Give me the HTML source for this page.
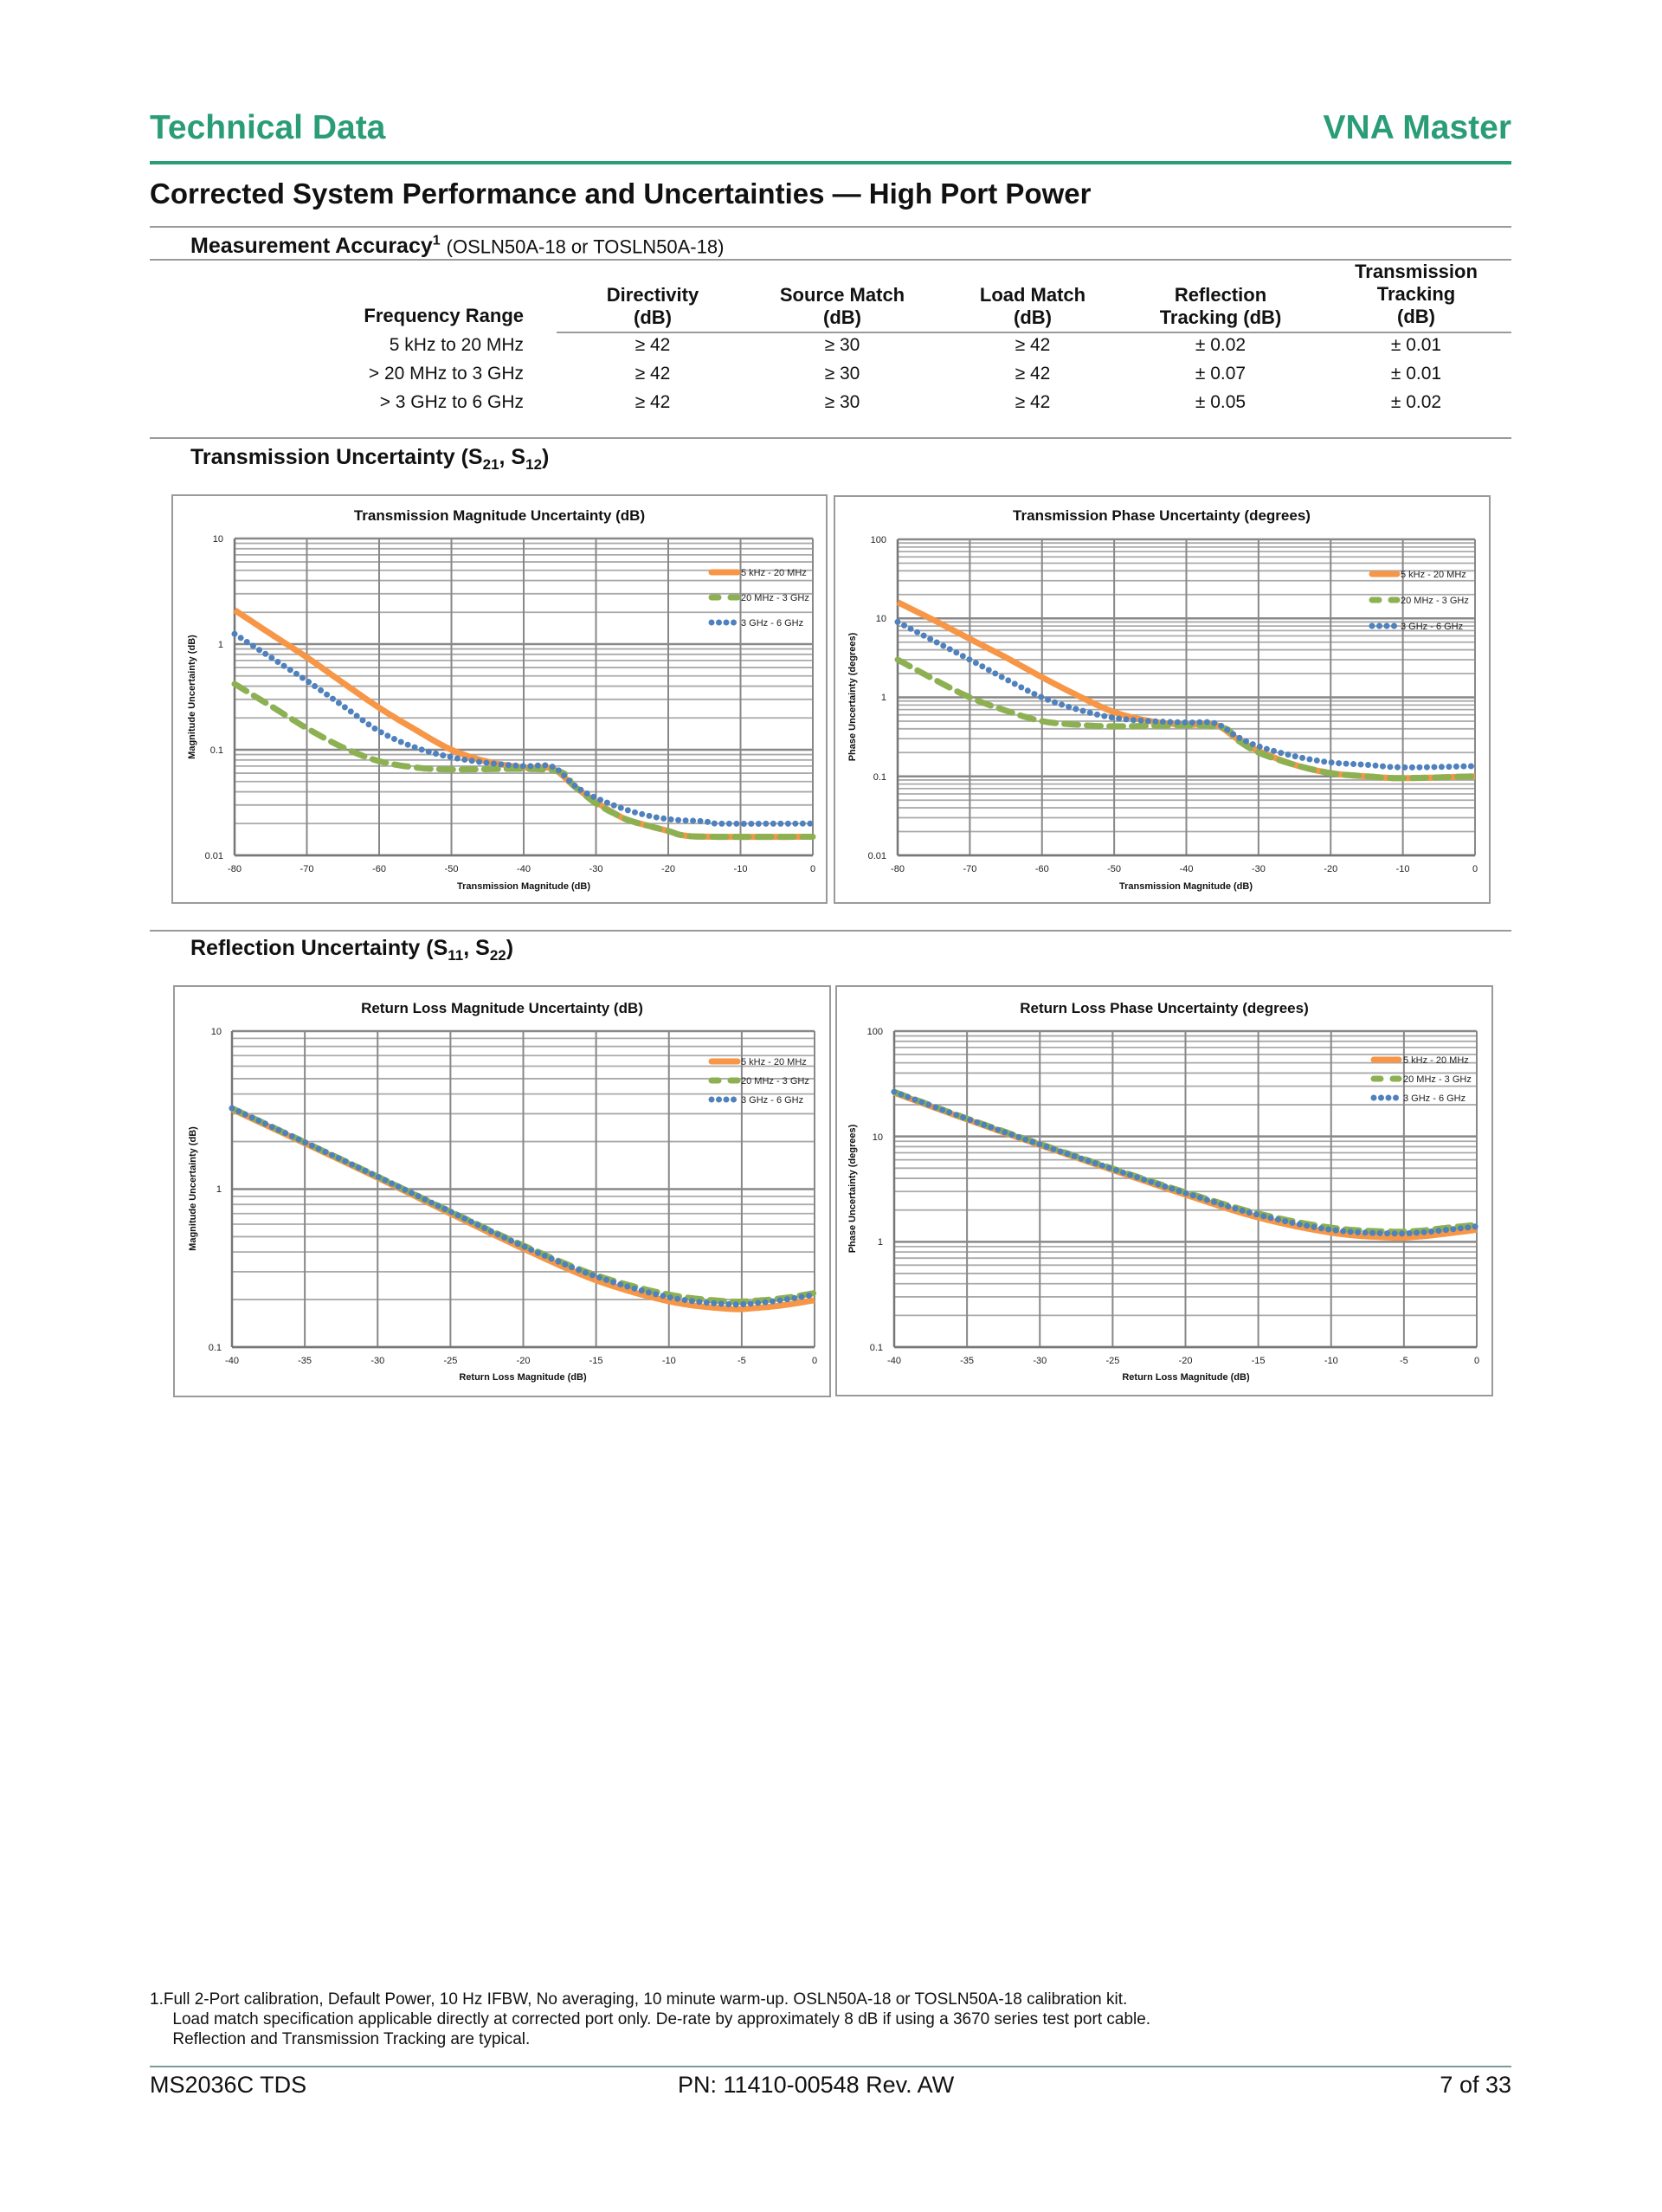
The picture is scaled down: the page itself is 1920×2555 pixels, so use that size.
<!DOCTYPE html>
<html><head><meta charset="utf-8"><style>
html,body{margin:0;padding:0;background:#fff;}
body{width:1920px;height:2555px;position:relative;overflow:hidden;font-family:"Liberation Sans",sans-serif;color:#111;}
.a{position:absolute;white-space:nowrap;line-height:1;}
.b{font-weight:bold;}
.hl{position:absolute;height:2px;background:#9a9a9a;}
.c{text-align:center;}
.r{text-align:right;}
</style></head><body>
<div class="a b" style="left:173px;top:128px;font-size:39px;color:#2a9d78;">Technical Data</div>
<div class="a b r" style="left:1446px;width:300px;top:128px;font-size:39px;color:#2a9d78;">VNA Master</div>
<div style="position:absolute;left:173px;top:186px;width:1573px;height:4px;background:#2a9d78;"></div>
<div class="a b" style="left:173px;top:207px;font-size:33px;">Corrected System Performance and Uncertainties — High Port Power</div>
<div class="hl" style="left:173px;top:261px;width:1573px;"></div>
<div class="a" style="left:220px;top:271px;font-size:25px;"><b>Measurement Accuracy<sup style="font-size:16px">1</sup></b> <span style="font-size:22px">(OSLN50A-18 or TOSLN50A-18)</span></div>
<div class="hl" style="left:173px;top:299px;width:1573px;"></div>
<div class="a b r" style="left:405px;width:200px;top:354px;font-size:22px;">Frequency Range</div>
<div class="a b c" style="left:654px;width:200px;top:328px;font-size:22px;line-height:26px;">Directivity<br>(dB)</div>
<div class="a b c" style="left:873px;width:200px;top:328px;font-size:22px;line-height:26px;">Source Match<br>(dB)</div>
<div class="a b c" style="left:1093px;width:200px;top:328px;font-size:22px;line-height:26px;">Load Match<br>(dB)</div>
<div class="a b c" style="left:1310px;width:200px;top:328px;font-size:22px;line-height:26px;">Reflection<br>Tracking (dB)</div>
<div class="a b c" style="left:1536px;width:200px;top:301px;font-size:22px;line-height:26px;">Transmission<br>Tracking<br>(dB)</div>
<div class="hl" style="left:643px;top:383px;width:1103px;"></div>
<div class="a r" style="left:355px;width:250px;top:382px;font-size:21px;line-height:33px;">5 kHz to 20 MHz<br>&gt; 20 MHz to 3 GHz<br>&gt; 3 GHz to 6 GHz</div>
<div class="a c" style="left:654px;width:200px;top:382px;font-size:21px;line-height:33px;">≥ 42<br>≥ 42<br>≥ 42</div>
<div class="a c" style="left:873px;width:200px;top:382px;font-size:21px;line-height:33px;">≥ 30<br>≥ 30<br>≥ 30</div>
<div class="a c" style="left:1093px;width:200px;top:382px;font-size:21px;line-height:33px;">≥ 42<br>≥ 42<br>≥ 42</div>
<div class="a c" style="left:1310px;width:200px;top:382px;font-size:21px;line-height:33px;">± 0.02<br>± 0.07<br>± 0.05</div>
<div class="a c" style="left:1536px;width:200px;top:382px;font-size:21px;line-height:33px;">± 0.01<br>± 0.01<br>± 0.02</div>
<div class="hl" style="left:173px;top:505px;width:1573px;"></div>
<div class="a b" style="left:220px;top:516px;font-size:25px;">Transmission Uncertainty (S<sub style="font-size:17px">21</sub>, S<sub style="font-size:17px">12</sub>)</div>
<div class="hl" style="left:173px;top:1074px;width:1573px;"></div>
<div class="a b" style="left:220px;top:1083px;font-size:25px;">Reflection Uncertainty (S<sub style="font-size:17px">11</sub>, S<sub style="font-size:17px">22</sub>)</div>

<svg id="ch" style="position:absolute;left:0;top:0" width="1920" height="2555" font-family="Liberation Sans, sans-serif">
<g id="grid"></g><g id="curves"></g>
<g font-size="17" font-weight="bold" text-anchor="middle" fill="#111">
<text x="577" y="601">Transmission Magnitude Uncertainty (dB)</text>
<text x="1342" y="601">Transmission Phase Uncertainty (degrees)</text>
<text x="580" y="1170">Return Loss Magnitude Uncertainty (dB)</text>
<text x="1345" y="1170">Return Loss Phase Uncertainty (degrees)</text>
</g>
<g font-size="11" font-weight="bold" text-anchor="middle" fill="#111">
<text x="605" y="1027">Transmission Magnitude (dB)</text>
<text x="1370" y="1027">Transmission Magnitude (dB)</text>
<text x="604" y="1594">Return Loss Magnitude (dB)</text>
<text x="1370" y="1594">Return Loss Magnitude (dB)</text>
<text transform="translate(225,805) rotate(-90)">Magnitude Uncertainty (dB)</text>
<text transform="translate(988,805) rotate(-90)">Phase Uncertainty (degrees)</text>
<text transform="translate(226,1373) rotate(-90)">Magnitude Uncertainty (dB)</text>
<text transform="translate(988,1373) rotate(-90)">Phase Uncertainty (degrees)</text>
</g>
<g font-size="11" fill="#222" text-anchor="end">
<text x="258" y="626">10</text><text x="258" y="748">1</text><text x="258" y="870">0.1</text><text x="258" y="992">0.01</text>
<text x="1024" y="627">100</text><text x="1024" y="718">10</text><text x="1024" y="809">1</text><text x="1024" y="901">0.1</text><text x="1024" y="992">0.01</text>
<text x="256" y="1195">10</text><text x="256" y="1377">1</text><text x="256" y="1560">0.1</text>
<text x="1020" y="1195">100</text><text x="1020" y="1317">10</text><text x="1020" y="1438">1</text><text x="1020" y="1560">0.1</text>
</g>
<g font-size="11" fill="#222" text-anchor="middle">
<text x="271" y="1007">-80</text><text x="354.5" y="1007">-70</text><text x="438" y="1007">-60</text><text x="521.5" y="1007">-50</text><text x="605" y="1007">-40</text><text x="688.5" y="1007">-30</text><text x="772" y="1007">-20</text><text x="855.5" y="1007">-10</text><text x="939" y="1007">0</text>
<text x="1037" y="1007">-80</text><text x="1120.4" y="1007">-70</text><text x="1203.8" y="1007">-60</text><text x="1287.1" y="1007">-50</text><text x="1370.5" y="1007">-40</text><text x="1453.9" y="1007">-30</text><text x="1537.3" y="1007">-20</text><text x="1620.6" y="1007">-10</text><text x="1704" y="1007">0</text>
<text x="268" y="1575">-40</text><text x="352.1" y="1575">-35</text><text x="436.3" y="1575">-30</text><text x="520.4" y="1575">-25</text><text x="604.5" y="1575">-20</text><text x="688.6" y="1575">-15</text><text x="772.8" y="1575">-10</text><text x="856.9" y="1575">-5</text><text x="941" y="1575">0</text>
<text x="1033" y="1575">-40</text><text x="1117.1" y="1575">-35</text><text x="1201.3" y="1575">-30</text><text x="1285.4" y="1575">-25</text><text x="1369.5" y="1575">-20</text><text x="1453.6" y="1575">-15</text><text x="1537.8" y="1575">-10</text><text x="1621.9" y="1575">-5</text><text x="1706" y="1575">0</text>
</g>
<g font-size="11" fill="#222">
<text x="856" y="665">5 kHz - 20 MHz</text><text x="856" y="694">20 MHz - 3 GHz</text><text x="856" y="723">3 GHz - 6 GHz</text>
<text x="1618" y="667">5 kHz - 20 MHz</text><text x="1618" y="697">20 MHz - 3 GHz</text><text x="1618" y="727">3 GHz - 6 GHz</text>
<text x="856" y="1230">5 kHz - 20 MHz</text><text x="856" y="1252">20 MHz - 3 GHz</text><text x="856" y="1274">3 GHz - 6 GHz</text>
<text x="1621" y="1228">5 kHz - 20 MHz</text><text x="1621" y="1250">20 MHz - 3 GHz</text><text x="1621" y="1272">3 GHz - 6 GHz</text>
</g>
</svg>

<div class="a" style="left:173px;top:2298px;font-size:19px;line-height:23px;">1.Full 2-Port calibration, Default Power, 10 Hz IFBW, No averaging, 10 minute warm-up. OSLN50A-18 or TOSLN50A-18 calibration kit.<br>&nbsp;&nbsp;&nbsp;&nbsp;&nbsp;Load match specification applicable directly at corrected port only. De-rate by approximately 8 dB if using a 3670 series test port cable.<br>&nbsp;&nbsp;&nbsp;&nbsp;&nbsp;Reflection and Transmission Tracking are typical.</div>
<div style="position:absolute;left:173px;top:2386px;width:1573px;height:2px;background:#7c9c9a;"></div>
<div class="a" style="left:173px;top:2395px;font-size:27px;">MS2036C TDS</div>
<div class="a" style="left:783px;top:2395px;font-size:27px;">PN: 11410-00548 Rev. AW</div>
<div class="a r" style="left:1446px;width:300px;top:2395px;font-size:27px;">7 of 33</div>

<script>
var NS="http://www.w3.org/2000/svg";
function el(p,t,a){var e=document.createElementNS(NS,t);for(var k in a)e.setAttribute(k,a[k]);p.appendChild(e);return e;}
var G=document.getElementById('grid'),C=document.getElementById('curves');
var charts=[
{box:[199,572,955,1043],p:[271,622,939,988],x0:-80,x1:0,xs:10,y0:-2,y1:1,
 s:[[[-80,2.1],[-75,1.25],[-70,0.75],[-65,0.43],[-60,0.25],[-55,0.155],[-50,0.1],[-45,0.077],[-40,0.068],[-36,0.066],[-33,0.045],[-30,0.032],[-27,0.024],[-25,0.021],[-20,0.017],[-18,0.0155],[-14,0.015],[0,0.015]],
    [[-80,0.42],[-75,0.26],[-70,0.16],[-65,0.105],[-60,0.078],[-55,0.068],[-50,0.065],[-36,0.064],[-33,0.045],[-30,0.031],[-27,0.024],[-25,0.021],[-20,0.017],[-18,0.0155],[-14,0.015],[0,0.015]],
    [[-80,1.25],[-75,0.75],[-70,0.45],[-65,0.26],[-60,0.15],[-55,0.105],[-50,0.085],[-45,0.075],[-40,0.07],[-36,0.069],[-33,0.046],[-30,0.035],[-25,0.026],[-20,0.022],[-15,0.021],[-13,0.02],[0,0.02]]],
 leg:[819,855,[661,690,719]]},
{box:[964,573,1721,1043],p:[1037,623,1704,988],x0:-80,x1:0,xs:10,y0:-2,y1:2,
 s:[[[-80,16],[-75,9.5],[-70,5.5],[-65,3.2],[-60,1.8],[-55,1.05],[-50,0.65],[-45,0.5],[-40,0.45],[-36,0.45],[-33,0.3],[-30,0.21],[-25,0.14],[-20,0.11],[-15,0.1],[-10,0.095],[0,0.1]],
    [[-80,3],[-75,1.7],[-70,1.0],[-65,0.68],[-60,0.5],[-55,0.45],[-50,0.43],[-36,0.43],[-33,0.29],[-30,0.2],[-25,0.14],[-20,0.11],[-15,0.1],[-10,0.095],[0,0.1]],
    [[-80,9],[-75,5.2],[-70,3],[-65,1.7],[-60,1.0],[-55,0.7],[-50,0.55],[-45,0.5],[-40,0.48],[-36,0.47],[-33,0.32],[-30,0.24],[-25,0.18],[-20,0.15],[-15,0.14],[-10,0.13],[0,0.135]]],
 leg:[1582,1617,[663,693,723]]},
{box:[201,1139,959,1613],p:[268,1191,941,1556],x0:-40,x1:0,xs:5,y0:-1,y1:1,
 s:[[[-40,3.2],[-35,1.95],[-30,1.18],[-25,0.7],[-20,0.42],[-15,0.265],[-10,0.195],[-6,0.175],[-4,0.177],[-2,0.185],[0,0.198]],
    [[-40,3.25],[-35,1.98],[-30,1.2],[-25,0.72],[-20,0.44],[-15,0.285],[-10,0.215],[-6,0.195],[-4,0.197],[-2,0.205],[0,0.22]],
    [[-40,3.25],[-35,1.98],[-30,1.2],[-25,0.72],[-20,0.435],[-15,0.28],[-10,0.207],[-6,0.187],[-4,0.19],[-2,0.2],[0,0.215]]],
 leg:[819,855,[1226,1248,1270]]},
{box:[966,1139,1724,1612],p:[1033,1191,1706,1556],x0:-40,x1:0,xs:5,y0:-1,y1:2,
 s:[[[-40,26],[-35,14.5],[-30,8.3],[-25,4.8],[-20,2.8],[-15,1.7],[-10,1.22],[-6,1.1],[-4,1.12],[-2,1.2],[0,1.3]],
    [[-40,26.5],[-35,14.8],[-30,8.5],[-25,4.95],[-20,2.95],[-15,1.85],[-10,1.36],[-6,1.25],[-4,1.27],[-2,1.36],[0,1.45]],
    [[-40,26.5],[-35,14.7],[-30,8.4],[-25,4.9],[-20,2.9],[-15,1.8],[-10,1.3],[-6,1.2],[-4,1.22],[-2,1.3],[0,1.4]]],
 leg:[1584,1619,[1224,1246,1268]]}];
var sty=[{stroke:"#f79646","stroke-width":7,"stroke-linecap":"butt"},
 {stroke:"#8db152","stroke-width":7,"stroke-dasharray":"16 10","stroke-linecap":"round"},
 {stroke:"#4f81bd","stroke-width":7,"stroke-dasharray":"0 8.5","stroke-linecap":"round"}];
charts.forEach(function(c){
 var b=c.box,p=c.p;
 el(G,'rect',{x:b[0],y:b[1],width:b[2]-b[0],height:b[3]-b[1],fill:'none',stroke:'#9a9a9a','stroke-width':2});
 var X=function(v){return p[0]+(v-c.x0)/(c.x1-c.x0)*(p[2]-p[0]);};
 var Y=function(v){return p[3]-(Math.log10(v)-c.y0)/(c.y1-c.y0)*(p[3]-p[1]);};
 for(var d=c.y0;d<c.y1;d++)for(var m=1;m<10;m++){var y=Y(m*Math.pow(10,d));
  el(G,'line',{x1:p[0],x2:p[2],y1:y,y2:y,stroke:m==1?'#888':'#aaa','stroke-width':m==1?2.5:1.8});}
 el(G,'line',{x1:p[0],x2:p[2],y1:p[1],y2:p[1],stroke:'#888','stroke-width':2.5});
 for(var x=c.x0;x<=c.x1;x+=c.xs){var xx=X(x);el(G,'line',{x1:xx,x2:xx,y1:p[1],y2:p[3],stroke:'#888','stroke-width':2});}
 el(G,'line',{x1:p[0],x2:p[0],y1:p[1],y2:p[3],stroke:'#777','stroke-width':2.5});
 el(G,'line',{x1:p[0],x2:p[2],y1:p[3],y2:p[3],stroke:'#777','stroke-width':2.5});
 c.s.forEach(function(s,i){
  var pts=[];
  for(var k=0;k<s.length-1;k++){var a=s[k],bb=s[k+1],a0=s[Math.max(0,k-1)],b1=s[Math.min(s.length-1,k+2)];
   var ly=function(q){return Math.log10(q[1]);};
   for(var t=0;t<1;t+=0.1){
    var t2=t*t,t3=t2*t;
    var f=function(p0,p1,p2,p3){return 0.5*((2*p1)+(-p0+p2)*t+(2*p0-5*p1+4*p2-p3)*t2+(-p0+3*p1-3*p2+p3)*t3);};
    var xv=f(a0[0],a[0],bb[0],b1[0]),yv=f(ly(a0),ly(a),ly(bb),ly(b1));
    pts.push(X(xv).toFixed(1)+','+Y(Math.pow(10,yv)).toFixed(1));}}
  var L=s[s.length-1];pts.push(X(L[0]).toFixed(1)+','+Y(L[1]).toFixed(1));
  var at={points:pts.join(' '),fill:'none','stroke-linejoin':'round'};for(var k2 in sty[i])at[k2]=sty[i][k2];
  el(C,'polyline',at);
  var lg=c.leg,ly2=lg[2][i],la={x1:lg[0]+3,x2:lg[1]-3,y1:ly2,y2:ly2};for(var k3 in sty[i])la[k3]=sty[i][k3];
  if(i==0){la['stroke-linecap']='round';}
  if(i==1)la['stroke-dasharray']='8 14';
  el(C,'line',la);
 });
});
</script>
</body></html>
